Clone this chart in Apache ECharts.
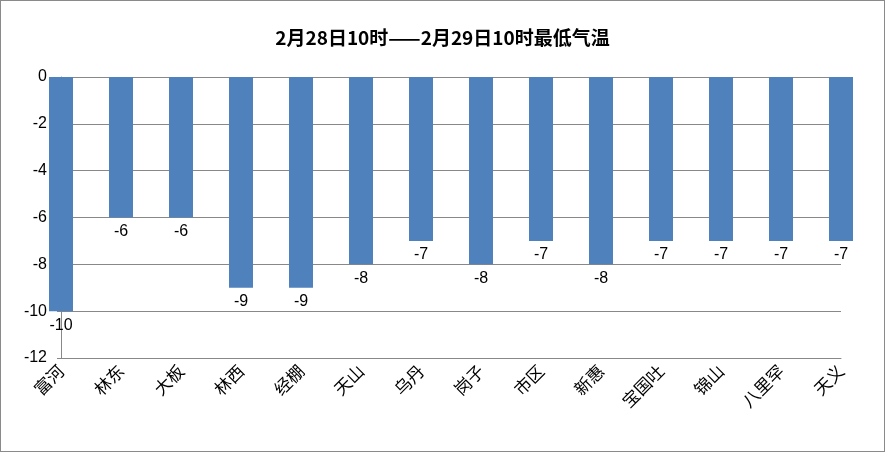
<!DOCTYPE html>
<html><head><meta charset="utf-8">
<script src="https://cdn.jsdelivr.net/npm/echarts@6/dist/echarts.min.js"></script>
<style>html,body{margin:0;padding:0;background:#fff}#c{width:885px;height:452px;box-sizing:border-box;border:1px solid #8a8a8a}</style>
</head><body><div id="c"></div>
<script>
const categories = ['富河','林东','大板','林西','经棚','天山','乌丹','岗子','市区','新惠','宝国吐','锦山','八里罕','天义'];
const values = [-10,-6,-6,-9,-9,-8,-7,-8,-7,-8,-7,-7,-7,-7];
const titleText = '2月28日10时——2月29日10时最低气温';
const chart = echarts.init(document.getElementById('c'), null, {renderer:'canvas'});
chart.setOption({
  animation:false,
  title:{text:titleText,left:'center',top:22,textStyle:{fontFamily:'Noto Sans CJK SC',fontSize:19,fontWeight:'bold',color:'#000'}},
  grid:{left:60,right:43,top:76,bottom:93,containLabel:false},
  xAxis:{type:'category',data:categories,boundaryGap:false,position:'bottom',
    axisLine:{onZero:false,lineStyle:{color:'#888'}},axisTick:{show:false},
    axisLabel:{rotate:45,interval:0,fontFamily:'Noto Sans CJK SC',fontSize:17,color:'#000',margin:10}},
  yAxis:{type:'value',min:-12,max:0,interval:2,
    axisLine:{show:true,lineStyle:{color:'#888'}},axisTick:{show:true,length:4,lineStyle:{color:'#888'}},
    axisLabel:{fontFamily:'Liberation Sans',fontSize:16,color:'#000',margin:14},
    splitLine:{lineStyle:{color:'#888',width:1}}},
  series:[{type:'bar',data:values,barWidth:24,clip:true,itemStyle:{color:'#4f81bd'},
    label:{show:true,position:'bottom',distance:6,fontFamily:'Liberation Sans',fontSize:16,color:'#000'}}]
});
</script></body></html>
